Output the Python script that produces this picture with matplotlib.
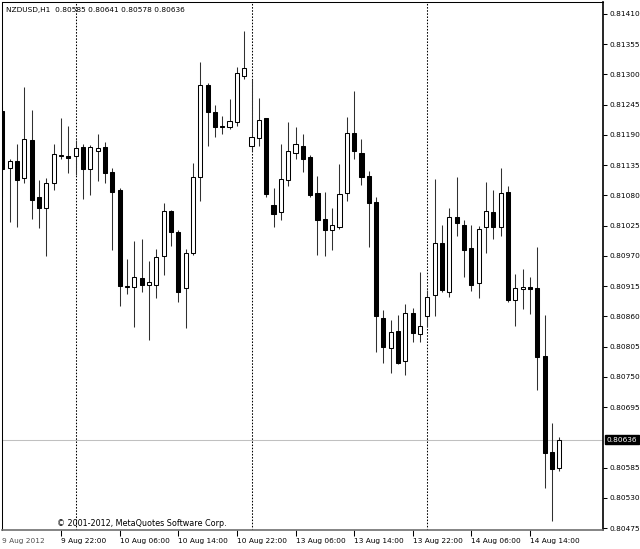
import matplotlib
matplotlib.use("Agg")
import matplotlib.pyplot as plt
import matplotlib.transforms as mtransforms

# ---- data (NZDUSD H1, 9 Aug 14:00 .. 14 Aug 18:00) ----
opens = [0.81234, 0.81129, 0.81143, 0.81111, 0.81181, 0.81078, 0.81057, 0.81102, 0.81151, 0.81152,
         0.81152, 0.81168, 0.81128, 0.81161, 0.81168, 0.81122, 0.81090, 0.80914, 0.80914, 0.80930,
         0.80917, 0.80918, 0.80969, 0.81052, 0.81014, 0.80911, 0.80976, 0.81114, 0.81281, 0.81232,
         0.81206, 0.81205, 0.81214, 0.81298, 0.81170, 0.81184, 0.81220, 0.81063, 0.81050, 0.81108,
         0.81157, 0.81170, 0.81150, 0.81084, 0.81038, 0.81018, 0.81023, 0.81084, 0.81193, 0.81158,
         0.81116, 0.81068, 0.80857, 0.80802, 0.80834, 0.80778, 0.80866, 0.80828, 0.80861, 0.80898,
         0.80994, 0.80905, 0.81040, 0.81027, 0.80984, 0.80920, 0.81022, 0.81049, 0.81022, 0.81086,
         0.80889, 0.80909, 0.80914, 0.80912, 0.80788, 0.80613, 0.80585]
highs = [0.81240, 0.81146, 0.81173, 0.81277, 0.81235, 0.81108, 0.81111, 0.81173, 0.81220, 0.81206,
         0.81181, 0.81173, 0.81172, 0.81191, 0.81178, 0.81129, 0.81093, 0.80964, 0.80997, 0.81001,
         0.80960, 0.80982, 0.81067, 0.81053, 0.81018, 0.80982, 0.81139, 0.81323, 0.81284, 0.81244,
         0.81225, 0.81255, 0.81314, 0.81379, 0.81291, 0.81258, 0.81221, 0.81093, 0.81173, 0.81214,
         0.81205, 0.81191, 0.81153, 0.81116, 0.81086, 0.81058, 0.81137, 0.81222, 0.81270, 0.81183,
         0.81125, 0.81078, 0.80872, 0.80854, 0.80863, 0.80883, 0.80875, 0.80941, 0.80908, 0.81109,
         0.81026, 0.81058, 0.81114, 0.81035, 0.81026, 0.81024, 0.81104, 0.81089, 0.81129, 0.81098,
         0.80938, 0.80946, 0.80932, 0.80986, 0.80863, 0.80667, 0.80641]
lows = [0.81077, 0.81032, 0.81023, 0.81103, 0.81038, 0.81021, 0.80969, 0.81089, 0.81146, 0.81121,
        0.81117, 0.81073, 0.81081, 0.81107, 0.81102, 0.80980, 0.80878, 0.80901, 0.80840, 0.80905,
        0.80817, 0.80894, 0.80935, 0.80988, 0.80886, 0.80838, 0.80971, 0.81070, 0.81169, 0.81187,
        0.81192, 0.81200, 0.81206, 0.81291, 0.81160, 0.81169, 0.81078, 0.81022, 0.81035, 0.81097,
        0.81147, 0.81123, 0.81078, 0.80972, 0.80970, 0.80981, 0.81019, 0.81069, 0.81147, 0.81099,
        0.80986, 0.80796, 0.80775, 0.80757, 0.80774, 0.80753, 0.80814, 0.80814, 0.80841, 0.80861,
        0.80905, 0.80896, 0.81006, 0.80932, 0.80907, 0.80894, 0.80975, 0.81000, 0.81006, 0.80887,
        0.80843, 0.80874, 0.80864, 0.80727, 0.80547, 0.80488, 0.80578]
closes = [0.81128, 0.81143, 0.81108, 0.81182, 0.81072, 0.81057, 0.81102, 0.81155, 0.81154, 0.81148,
          0.81167, 0.81128, 0.81168, 0.81166, 0.81120, 0.81087, 0.80915, 0.80915, 0.80932, 0.80917,
          0.80923, 0.80968, 0.81052, 0.81014, 0.80905, 0.80976, 0.81114, 0.81281, 0.81232, 0.81204,
          0.81205, 0.81215, 0.81302, 0.81312, 0.81186, 0.81217, 0.81082, 0.81047, 0.81109, 0.81161,
          0.81174, 0.81147, 0.81081, 0.81035, 0.81018, 0.81026, 0.81083, 0.81193, 0.81161, 0.81114,
          0.81066, 0.80860, 0.80805, 0.80832, 0.80775, 0.80866, 0.80829, 0.80843, 0.80896, 0.80994,
          0.80908, 0.81041, 0.81030, 0.80981, 0.80917, 0.81019, 0.81052, 0.81023, 0.81084, 0.80890,
          0.80911, 0.80914, 0.80909, 0.80786, 0.80612, 0.80582, 0.80636]

time_labels = ["9 Aug 22:00", "10 Aug 06:00", "10 Aug 14:00", "10 Aug 22:00", "13 Aug 06:00",
               "13 Aug 14:00", "13 Aug 22:00", "14 Aug 06:00", "14 Aug 14:00"]
label_bars = [8, 16, 24, 32, 40, 48, 56, 64, 72]
separator_bars = [10, 34, 58]
price_ticks = [0.81410, 0.81355, 0.81300, 0.81245, 0.81190, 0.81135, 0.81080, 0.81025, 0.80970,
               0.80915, 0.80860, 0.80805, 0.80750, 0.80695, 0.80585, 0.80530, 0.80475]
bid_price = 0.80636
header = "NZDUSD,H1  0.80585 0.80641 0.80578 0.80636"
first_date = "9 Aug 2012"
copyright_text = "\u00a9 2001-2012, MetaQuotes Software Corp."

W, H = 640, 549
fig = plt.figure(figsize=(W / 100, H / 100), dpi=100)
fig.patch.set_facecolor("white")
L, R, T, B = 2, 603, 2, 530
ax = fig.add_axes([L / W, (H - B) / H, (R - L) / W, (B - T) / H])
ax.set_facecolor("white")

FS = 5.3

# candles
n = len(opens)
xs = list(range(n))
ax.vlines(xs, lows, highs, colors="#303030", linewidth=0.75, zorder=2)
for i in range(n):
    o, c = opens[i], closes[i]
    bottom = min(o, c)
    height = abs(c - o)
    face = "white" if c >= o else "black"
    ax.bar(i, height, bottom=bottom, width=0.56, color=face, edgecolor="black",
           linewidth=0.75, zorder=3)

# period separators
for s in separator_bars:
    ax.axvline(s, color="black", linewidth=0.75, linestyle=(0, (1.5, 1.5)), zorder=1)

# bid line
ax.axhline(bid_price, color="#c0c0c0", linewidth=0.75, zorder=1)

ax.set_xlim(-0.05, 81.96)
ax.set_ylim(0.804715, 0.814318)

# y axis on right
ax.yaxis.tick_right()
ax.set_yticks(price_ticks)
ax.set_yticklabels(["%.5f" % v for v in price_ticks])
ax.tick_params(axis="y", direction="out", length=3, width=0.75, pad=2,
               labelsize=FS, colors="black")

# x axis
ax.set_xticks(label_bars)
ax.set_xticklabels(time_labels)
ax.tick_params(axis="x", direction="out", length=4, width=0.75, pad=2,
               labelsize=FS, colors="black")
for lbl in ax.get_xticklabels():
    lbl.set_horizontalalignment("left")

for side in ["left", "top"]:
    ax.spines[side].set_color("black")
    ax.spines[side].set_linewidth(0.75)
ax.spines["right"].set_color("black")
ax.spines["right"].set_linewidth(1.2)
ax.spines["bottom"].set_color("#707070")
ax.spines["bottom"].set_linewidth(1.2)

# bid label
trans = mtransforms.blended_transform_factory(ax.transAxes, ax.transData)
ax.text(1.006, bid_price, "%.5f" % bid_price, transform=trans, ha="left", va="center",
        fontsize=FS, color="white",
        bbox=dict(boxstyle="square,pad=0.25", facecolor="black", edgecolor="black"),
        clip_on=False, zorder=10)

# header and copyright
ax.text(0.0067, 0.985, header, transform=ax.transAxes, ha="left", va="center",
        fontsize=FS, color="black")
ax.text(0.0915, 0.0114, copyright_text, transform=ax.transAxes, ha="left", va="center",
        fontsize=5.8, color="black")
fig.text(2 / W, 1 - 541 / H, first_date, ha="left", va="center", fontsize=FS, color="#505050")

fig.savefig("out.png", dpi=100, facecolor="white")
